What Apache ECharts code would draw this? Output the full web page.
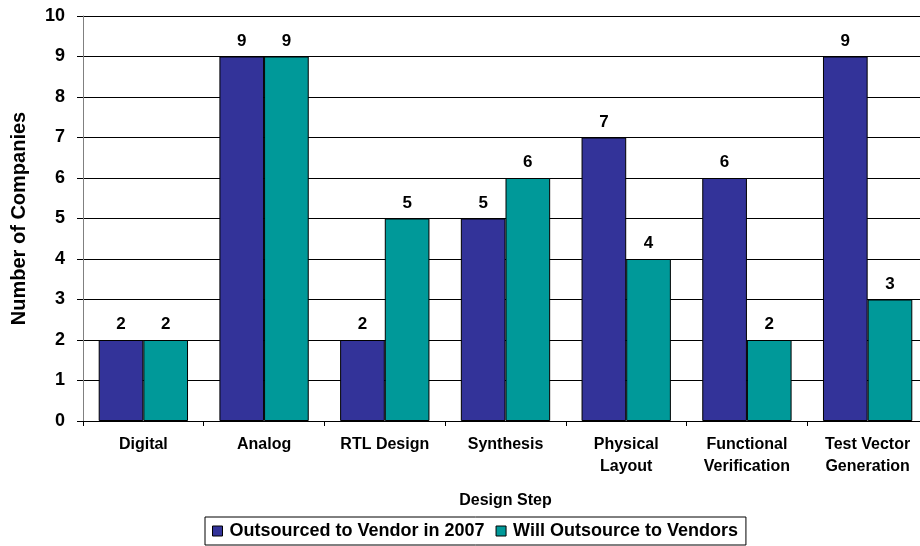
<!DOCTYPE html>
<html>
<head>
<meta charset="utf-8">
<script src="https://cdn.jsdelivr.net/npm/echarts@6/dist/echarts.min.js"></script>
<style>
html,body{margin:0;padding:0;background:#fff;}
#chart{width:920px;height:546px;}
</style>
</head>
<body>
<div id="chart"></div>
<script>
var categories = ['Digital', 'Analog', 'RTL Design', 'Synthesis', 'Physical\nLayout', 'Functional\nVerification', 'Test Vector\nGeneration'];
var outsourced2007 = [2, 9, 2, 5, 7, 6, 9];
var willOutsource = [2, 9, 5, 6, 4, 2, 3];
var seriesNames = ['Outsourced to Vendor in 2007', 'Will Outsource to Vendors'];
var xAxisTitle = 'Design Step';
var yAxisTitle = 'Number of Companies';

var FONT = '"Liberation Sans", Arial, sans-serif';
var chart = echarts.init(document.getElementById('chart'), null, {renderer: 'canvas'});
var labelStyle = {
  show: true, position: 'top', distance: 7,
  fontFamily: FONT, fontWeight: 'bold', fontSize: 17, color: '#000'
};
chart.setOption({
  animation: false,
  backgroundColor: '#fff',
  grid: {left: 83, top: 16, width: 845, height: 405, containLabel: false, outerBoundsMode: 'none'},
  legend: {
    left: 205, top: 517,
    data: seriesNames,
    icon: 'rect', itemWidth: 10, itemHeight: 10, itemGap: 11,
    borderColor: '#000', borderWidth: 1, padding: [5, 8, 5, 7],
    itemStyle: {borderColor: '#000', borderWidth: 1},
    textStyle: {fontFamily: FONT, fontWeight: 'bold', fontSize: 18, color: '#000', padding: [0, 0, 0, 2]}
  },
  xAxis: {
    type: 'category',
    data: categories,
    name: xAxisTitle,
    nameLocation: 'middle',
    nameGap: 72,
    nameMoveOverlap: false,
    nameTextStyle: {fontFamily: FONT, fontWeight: 'bold', fontSize: 16, color: '#000'},
    axisLine: {lineStyle: {color: '#000', width: 1}},
    axisTick: {show: true, length: 5, lineStyle: {color: '#000'}},
    axisLabel: {fontFamily: FONT, fontWeight: 'bold', fontSize: 16, color: '#000', margin: 13, lineHeight: 22, interval: 0}
  },
  yAxis: {
    type: 'value',
    min: 0, max: 10, interval: 1,
    name: yAxisTitle,
    nameLocation: 'middle',
    nameRotate: 90,
    nameGap: 54,
    nameMoveOverlap: false,
    nameTextStyle: {fontFamily: FONT, fontWeight: 'bold', fontSize: 20, color: '#000'},
    axisLine: {show: true, lineStyle: {color: '#808080', width: 1}},
    axisTick: {show: true, length: 6, lineStyle: {color: '#000'}},
    axisLabel: {fontFamily: FONT, fontWeight: 'bold', fontSize: 18, color: '#000', margin: 18},
    splitLine: {show: true, lineStyle: {color: '#000', width: 1}}
  },
  series: [
    {
      name: seriesNames[0], type: 'bar', data: outsourced2007,
      barGap: '0%', barCategoryGap: '26%',
      itemStyle: {color: '#333399', borderColor: '#000', borderWidth: 1},
      label: labelStyle
    },
    {
      name: seriesNames[1], type: 'bar', data: willOutsource,
      barGap: '0%', barCategoryGap: '26%',
      itemStyle: {color: '#009999', borderColor: '#000', borderWidth: 1},
      label: labelStyle
    }
  ]
});
</script>
</body>
</html>
